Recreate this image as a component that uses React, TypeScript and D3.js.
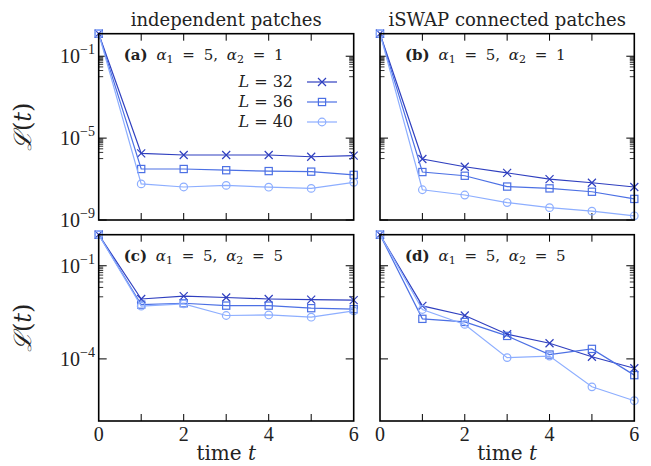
import React from "react";
import * as d3 from "d3";

const times = [0, 1, 2, 3, 4, 5, 6];
const sizeLabels = ["32", "36", "40"];
const seriesColors = ["#2f3fbf", "#4c70e4", "#8daeff"];
const markerKinds = ["cross", "square", "circle"];

// (a) independent patches, alpha1 = 5, alpha2 = 1
const indepWeak32 = [1.26, 1.8e-6, 1.5e-6, 1.5e-6, 1.5e-6, 1.23e-6, 1.4e-6];
const indepWeak36 = [1.26, 3.1e-7, 3.1e-7, 2.7e-7, 2.45e-7, 2.3e-7, 1.6e-7];
const indepWeak40 = [1.26, 5.8e-8, 4.1e-8, 4.9e-8, 4.0e-8, 3.5e-8, 6.9e-8];
// (b) iSWAP connected, alpha1 = 5, alpha2 = 1
const iswapWeak32 = [1.26, 9.5e-7, 4.0e-7, 2.0e-7, 1.0e-7, 6.6e-8, 4.1e-8];
const iswapWeak36 = [1.26, 2.2e-7, 1.45e-7, 4.3e-8, 3.5e-8, 2.4e-8, 1.07e-8];
const iswapWeak40 = [1.26, 3.0e-8, 1.66e-8, 7.1e-9, 4.0e-9, 2.7e-9, 1.6e-9];
// (c) independent patches, alpha1 = 5, alpha2 = 5
const indepStrong32 = [1, 8.5e-3, 1.05e-2, 9.5e-3, 8.5e-3, 8.1e-3, 7.8e-3];
const indepStrong36 = [1, 5.6e-3, 6.2e-3, 5.2e-3, 5.2e-3, 4.3e-3, 4.0e-3];
const indepStrong40 = [1, 5.0e-3, 5.9e-3, 2.5e-3, 2.6e-3, 2.2e-3, 3.5e-3];
// (d) iSWAP connected, alpha1 = 5, alpha2 = 5
const iswapStrong32 = [1, 5.1e-3, 2.5e-3, 6.2e-4, 3.2e-4, 1.17e-4, 5.0e-5];
const iswapStrong36 = [1, 1.95e-3, 1.55e-3, 5.5e-4, 1.38e-4, 2.1e-4, 3.0e-5];
const iswapStrong40 = [1, 3.9e-3, 1.29e-3, 1.1e-4, 1.23e-4, 1.26e-5, 4.5e-6];

const columnTitles = ["independent patches", "iSWAP connected patches"];
const topMajor = [1e-1, 1e-5, 1e-9];
const topMajorExp = ["−1", "−5", "−9"];
const bottomMajor = [1e-1, 1e-4];
const bottomMajorExp = ["−1", "−4"];
const xTickLabels = [0, 2, 4, 6];

const W = 651;
const H = 466;
const colX = [
  [98.7, 353.7],
  [380, 634.3],
];
const rowY = [
  [33.7, 220],
  [234.7, 421],
];

const yTop = d3.scaleLog().domain([1e-9, Math.pow(10, 0.1)]).range([rowY[0][1], rowY[0][0]]);
const yBottom = d3.scaleLog().domain([1e-6, 1]).range([rowY[1][1], rowY[1][0]]);

// gnuplot-style minor tics: one decade below each listed major
const minorOf = (majors: number[]) =>
  majors.flatMap((m) => d3.range(1, 10).map((k) => m * 0.1 * k));

const rows = [
  { y: yTop, major: topMajor, exps: topMajorExp, minor: minorOf([1e-1, 1e-5]) },
  { y: yBottom, major: bottomMajor, exps: bottomMajorExp, minor: minorOf([1e-1]) },
];

const panels = [
  { tag: "a", col: 0, row: 0, a2: "1", data: [indepWeak32, indepWeak36, indepWeak40] },
  { tag: "b", col: 1, row: 0, a2: "1", data: [iswapWeak32, iswapWeak36, iswapWeak40] },
  { tag: "c", col: 0, row: 1, a2: "5", data: [indepStrong32, indepStrong36, indepStrong40] },
  { tag: "d", col: 1, row: 1, a2: "5", data: [iswapStrong32, iswapStrong36, iswapStrong40] },
];

const SERIF = "DejaVu Serif";
const TIMES = "Liberation Serif";

function Marker({ kind, x, y, color }: { kind: string; x: number; y: number; color: string }) {
  const sw = 1.2;
  if (kind === "cross") {
    const s = 4;
    return (
      <path
        d={`M${x - s},${y - s}L${x + s},${y + s}M${x - s},${y + s}L${x + s},${y - s}`}
        stroke={color}
        strokeWidth={sw}
        fill="none"
      />
    );
  }
  if (kind === "square") {
    const s = 3.6;
    return <rect x={x - s} y={y - s} width={2 * s} height={2 * s} stroke={color} strokeWidth={sw} fill="none" />;
  }
  return <circle cx={x} cy={y} r={3.8} stroke={color} strokeWidth={sw} fill="none" />;
}

function Panel({ p }: { p: (typeof panels)[number] }) {
  const [x0, x1] = colX[p.col];
  const [y0, y1] = rowY[p.row];
  const r = rows[p.row];
  const x = d3.scaleLinear().domain([0, 6]).range([x0, x1]);
  const y = r.y;
  const line = d3
    .line<number>()
    .x((_, i) => x(times[i]))
    .y((d) => y(d));
  const inner = d3.range(1, 6);
  return (
    <g>
      {inner.map((t) => (
        <g key={"xt" + t} stroke="#000" strokeWidth={1}>
          <line x1={x(t)} x2={x(t)} y1={y1} y2={y1 - 7} />
          <line x1={x(t)} x2={x(t)} y1={y0} y2={y0 + 7} />
        </g>
      ))}
      {r.major.map((v) => (
        <g key={"ym" + v} stroke="#000" strokeWidth={1}>
          <line x1={x0} x2={x0 + 8} y1={y(v)} y2={y(v)} />
          <line x1={x1} x2={x1 - 8} y1={y(v)} y2={y(v)} />
        </g>
      ))}
      {r.minor.map((v, i) => (
        <g key={"yn" + i} stroke="#000" strokeWidth={0.8}>
          <line x1={x0} x2={x0 + 4.5} y1={y(v)} y2={y(v)} />
          <line x1={x1} x2={x1 - 4.5} y1={y(v)} y2={y(v)} />
        </g>
      ))}
      {p.data.map((vals, si) => (
        <g key={"s" + si}>
          <path d={line(vals) || ""} fill="none" stroke={seriesColors[si]} strokeWidth={1.2} />
          {vals.map((v, i) => (
            <Marker key={i} kind={markerKinds[si]} x={x(times[i])} y={y(v)} color={seriesColors[si]} />
          ))}
        </g>
      ))}
      <rect x={x0} y={y0} width={x1 - x0} height={y1 - y0} fill="none" stroke="#000" strokeWidth={1.6} />
      <text x={x0 + 25} y={y0 + 26} fontFamily={SERIF} fontSize={15} fill="#222" style={{ wordSpacing: "4px" }}>
        <tspan fontWeight="bold">({p.tag})</tspan>
        <tspan fontStyle="italic"> α</tspan>
        <tspan fontSize={11} dy={3.5}>1</tspan>
        <tspan dy={-3.5}> = 5, </tspan>
        <tspan fontStyle="italic">α</tspan>
        <tspan fontSize={11} dy={3.5}>2</tspan>
        <tspan dy={-3.5}> = {p.a2}</tspan>
      </text>
      {p.col === 0 &&
        r.major.map((v, i) => (
          <text key={"yl" + v} x={95} y={y(v) + 7} textAnchor="end" fontFamily={TIMES} fontSize={20} fill="#222">
            <tspan>10</tspan>
            <tspan fontSize={14} dy={-9}>
              {r.exps[i]}
            </tspan>
          </text>
        ))}
      {p.row === 1 &&
        xTickLabels.map((t) => (
          <text key={"xl" + t} x={x(t)} y={y1 + 20} textAnchor="middle" fontFamily={TIMES} fontSize={20} fill="#222">
            {t}
          </text>
        ))}
      {p.row === 1 && (
        <text x={(x0 + x1) / 2} y={460} textAnchor="middle" fontFamily={SERIF} fontSize={20} fill="#222">
          time <tspan fontStyle="italic">t</tspan>
        </text>
      )}
      {p.row === 0 && (
        <text x={(x0 + x1) / 2} y={26} textAnchor="middle" fontFamily={SERIF} fontSize={18} fill="#222">
          {columnTitles[p.col]}
        </text>
      )}
      {p.col === 0 && (
        <text
          transform={`translate(31,${(y0 + y1) / 2}) rotate(-90)`}
          textAnchor="middle"
          fontFamily={SERIF}
          fontSize={24}
          fill="#222"
        >
          <tspan fontStyle="italic">ℒ</tspan>(<tspan fontStyle="italic">t</tspan>)
        </text>
      )}
    </g>
  );
}

function Legend() {
  const rowsY = [82, 102, 122];
  return (
    <g>
      {sizeLabels.map((s, i) => (
        <g key={s}>
          <text x={293} y={rowsY[i] + 5} textAnchor="end" fontFamily={SERIF} fontSize={16} fill="#222">
            <tspan fontStyle="italic">L</tspan> = {s}
          </text>
          <line x1={307} x2={337} y1={rowsY[i]} y2={rowsY[i]} stroke={seriesColors[i]} strokeWidth={1.2} />
          <Marker kind={markerKinds[i]} x={322} y={rowsY[i]} color={seriesColors[i]} />
        </g>
      ))}
    </g>
  );
}

export default function App() {
  return (
    <svg width={W} height={H} style={{ position: "absolute", left: 0, top: 0, background: "#fff" }}>
      {panels.map((p) => (
        <Panel key={p.tag} p={p} />
      ))}
      <Legend />
    </svg>
  );
}
